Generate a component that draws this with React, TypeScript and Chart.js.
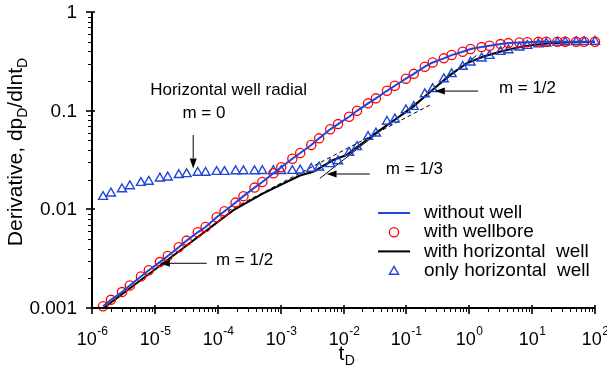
import React, { useEffect, useRef } from "react";
import { Chart, registerables } from "chart.js";

Chart.register(...registerables);

const FONT = '"Liberation Sans", Arial, Helvetica, sans-serif';
const BLUE = "#1f45d9";
const RED = "#ff0000";

// dimensionless time for the sampled (marker) series
const tD = [
  1.5e-6, 2e-6, 3e-6, 4e-6, 6e-6, 8e-6, 1.2e-5, 1.6e-5, 2.4e-5, 3.2e-5,
  4.8e-5, 6.4e-5, 9.6e-5, 1.28e-4, 1.92e-4, 2.56e-4, 3.84e-4, 5.12e-4, 7.68e-4, 1.024e-3,
  1.536e-3, 2.048e-3, 3.072e-3, 4.096e-3, 6.144e-3, 8.192e-3, 0.012288, 0.016384, 0.024576, 0.032768,
  0.049152, 0.065536, 0.098304, 0.131072, 0.196608, 0.262144, 0.393216, 0.524288, 0.786432, 1.048576,
  1.572864, 2.097152, 3.145728, 4.194304, 6.291456, 8.388608, 12.58, 16.78, 25.17, 33.55,
  50.33, 67.11, 100,
];

// "without well" (blue line) and "with wellbore" (red circles) coincide
const withoutWell = [
  0.00104, 0.00121, 0.00145, 0.00169, 0.00209, 0.00241, 0.00292, 0.00337, 0.00413, 0.00482,
  0.00585, 0.00662, 0.0083, 0.00955, 0.0117, 0.0136, 0.0166, 0.0189, 0.0232, 0.0267,
  0.0326, 0.0372, 0.0448, 0.0524, 0.0647, 0.0731, 0.0867, 0.0997, 0.1186, 0.1333,
  0.159, 0.179, 0.211, 0.236, 0.279, 0.308, 0.339, 0.366, 0.395, 0.421,
  0.441, 0.455, 0.473, 0.484, 0.49, 0.495, 0.498, 0.499, 0.5, 0.5,
  0.5, 0.5, 0.5,
];
const withWellbore = [
  0.00104, 0.00121, 0.00145, 0.00169, 0.00209, 0.00241, 0.00292, 0.00337, 0.00413, 0.00482,
  0.00585, 0.00662, 0.0083, 0.00955, 0.0117, 0.0136, 0.0166, 0.0189, 0.0232, 0.0267,
  0.0326, 0.0372, 0.0448, 0.0524, 0.0647, 0.0731, 0.0867, 0.0997, 0.1186, 0.1333,
  0.159, 0.179, 0.211, 0.236, 0.279, 0.308, 0.339, 0.366, 0.395, 0.421,
  0.441, 0.455, 0.473, 0.484, 0.49, 0.495, 0.498, 0.499, 0.5, 0.5,
  0.5, 0.5, 0.5,
];
const onlyHorizontalWell = [
  0.0134, 0.0145, 0.016, 0.0172, 0.0186, 0.0191, 0.0206, 0.0211, 0.0223, 0.0228,
  0.0235, 0.0235, 0.024, 0.024, 0.0244, 0.0244, 0.0244, 0.0245, 0.0245, 0.0245,
  0.0246, 0.0248, 0.0258, 0.0266, 0.0288, 0.0308, 0.0376, 0.043, 0.0544, 0.0589,
  0.0773, 0.0817, 0.1014, 0.1096, 0.147, 0.166, 0.209, 0.235, 0.279, 0.308,
  0.339, 0.36, 0.395, 0.411, 0.437, 0.455, 0.473, 0.481, 0.49, 0.494,
  0.497, 0.499, 0.5,
];

// "with horizontal well" (black line)
const tDHorizontal = [
  1.5e-6, 1.2e-5, 1.75e-4, 5.28e-4, 2.03e-3, 3.3e-3, 6.85e-3, 0.0112, 0.0182, 0.0379,
  0.128, 0.209, 0.492, 0.906, 1.64, 3.06, 5.65, 10.3, 19.1, 35.2, 92.3, 100,
];
const withHorizontalWell = [
  0.00099, 0.00268, 0.00975, 0.0145, 0.022, 0.024, 0.0316, 0.0355, 0.0448, 0.0635,
  0.109, 0.144, 0.23, 0.301, 0.352, 0.395, 0.434, 0.462, 0.481, 0.492, 0.499, 0.499,
];

const xMajorTicks = [1e-6, 1e-5, 1e-4, 1e-3, 1e-2, 1e-1, 1, 10, 100];
const xTickExponents = ["-6", "-5", "-4", "-3", "-2", "-1", "0", "1", "2"];
const yMajorTicks = [0.001, 0.01, 0.1, 1];
const yTickLabels = ["0.001", "0.01", "0.1", "1"];
const minorMultipliers = [2, 3, 4, 5, 6, 7, 8, 9];

const legendLabels = ["without well", "with wellbore", "with horizontal  well", "only horizontal  well"];

// annotations, in data coordinates
const tangentHalf = [[4.2e-3, 0.0206], [1.3, 0.362]];
const tangentThird = [[1.45e-4, 0.00962], [0.254, 0.1167]];
const arrows = [
  { from: [4.07e-5, 0.0567], to: [4.07e-5, 0.026] },
  { from: [6.67e-5, 0.00284], to: [1.2e-5, 0.00284] },
  { from: [0.0263, 0.0228], to: [5.38e-3, 0.0228] },
  { from: [1.38, 0.158], to: [0.284, 0.158] },
];
const notes = [
  { text: "Horizontal well radial", x: 1.49e-4, y: 0.159, align: "center" },
  { text: "m = 0", x: 6.04e-5, y: 0.094, align: "center" },
  { text: "m = 1/2", x: 9.35e-5, y: 0.00306, align: "left" },
  { text: "m = 1/3", x: 0.0472, y: 0.0256, align: "left" },
  { text: "m = 1/2", x: 2.96, y: 0.168, align: "left" },
];

function drawTriangle(ctx: CanvasRenderingContext2D, x: number, y: number, r: number) {
  ctx.beginPath();
  for (let i = 0; i < 3; i++) {
    const a = (i * 2 * Math.PI) / 3;
    const px = x + Math.sin(a) * r;
    const py = y - Math.cos(a) * r;
    if (i === 0) ctx.moveTo(px, py);
    else ctx.lineTo(px, py);
  }
  ctx.closePath();
  ctx.stroke();
}

const decorPlugin = {
  id: "decor",
  beforeDatasetsDraw(chart: any) {
    const { ctx, scales } = chart;
    const xs = scales.x, ys = scales.y;
    ctx.save();
    ctx.strokeStyle = "#000";
    ctx.lineWidth = 1;
    ctx.beginPath();
    ctx.moveTo(xs.getPixelForValue(tangentHalf[0][0]), ys.getPixelForValue(tangentHalf[0][1]));
    ctx.lineTo(xs.getPixelForValue(tangentHalf[1][0]), ys.getPixelForValue(tangentHalf[1][1]));
    ctx.stroke();
    ctx.setLineDash([4, 3]);
    ctx.beginPath();
    ctx.moveTo(xs.getPixelForValue(tangentThird[0][0]), ys.getPixelForValue(tangentThird[0][1]));
    ctx.lineTo(xs.getPixelForValue(tangentThird[1][0]), ys.getPixelForValue(tangentThird[1][1]));
    ctx.stroke();
    ctx.restore();
  },
  afterDraw(chart: any) {
    const { ctx, scales, chartArea: ca } = chart;
    const xs = scales.x, ys = scales.y;
    ctx.save();
    ctx.strokeStyle = "#000";
    ctx.fillStyle = "#000";

    // axis lines
    ctx.lineWidth = 2;
    ctx.beginPath();
    ctx.moveTo(ca.left, ca.top);
    ctx.lineTo(ca.left, ca.bottom);
    ctx.lineTo(ca.right, ca.bottom);
    ctx.stroke();

    // x ticks
    for (let i = 0; i < xMajorTicks.length; i++) {
      const v = xMajorTicks[i];
      const px = Math.round(xs.getPixelForValue(v));
      ctx.lineWidth = 1.6;
      ctx.beginPath();
      ctx.moveTo(px, ca.bottom - 3);
      ctx.lineTo(px, ca.bottom + 6);
      ctx.stroke();
      if (i < xMajorTicks.length - 1) {
        for (const m of minorMultipliers) {
          const mx = Math.round(xs.getPixelForValue(v * m)) + 0.5;
          ctx.lineWidth = 1;
          ctx.beginPath();
          ctx.moveTo(mx, ca.bottom);
          ctx.lineTo(mx, ca.bottom + 4);
          ctx.stroke();
        }
      }
      // label 10^n
      ctx.textBaseline = "alphabetic";
      ctx.font = `18px ${FONT}`;
      const w10 = ctx.measureText("10").width;
      ctx.font = `12px ${FONT}`;
      const we = ctx.measureText(xTickExponents[i]).width;
      const start = px - (w10 + we) / 2;
      ctx.font = `18px ${FONT}`;
      ctx.textAlign = "left";
      ctx.fillText("10", start, ca.bottom + 37);
      ctx.font = `12px ${FONT}`;
      ctx.fillText(xTickExponents[i], start + w10 + 0.5, ca.bottom + 27);
    }

    // y ticks
    for (let i = 0; i < yMajorTicks.length; i++) {
      const v = yMajorTicks[i];
      const py = Math.round(ys.getPixelForValue(v));
      ctx.lineWidth = 1.6;
      ctx.beginPath();
      ctx.moveTo(ca.left - 6, py);
      ctx.lineTo(ca.left + 3, py);
      ctx.stroke();
      if (i < yMajorTicks.length - 1) {
        for (const m of minorMultipliers) {
          const my = Math.round(ys.getPixelForValue(v * m)) + 0.5;
          ctx.lineWidth = 1;
          ctx.beginPath();
          ctx.moveTo(ca.left - 4, my);
          ctx.lineTo(ca.left, my);
          ctx.stroke();
        }
      }
      ctx.font = `19px ${FONT}`;
      ctx.textAlign = "right";
      ctx.textBaseline = "middle";
      ctx.fillText(yTickLabels[i], ca.left - 15, py + 1);
    }

    // x title t_D
    ctx.textAlign = "left";
    ctx.textBaseline = "alphabetic";
    ctx.font = `21px ${FONT}`;
    const wt = ctx.measureText("t").width;
    ctx.font = `14px ${FONT}`;
    const wd = ctx.measureText("D").width;
    const tx = (ca.left + ca.right) / 2 + 3 - (wt + wd) / 2;
    ctx.font = `21px ${FONT}`;
    ctx.fillText("t", tx, ca.bottom + 52);
    ctx.font = `14px ${FONT}`;
    ctx.fillText("D", tx + wt + 0.5, ca.bottom + 57);

    // y title
    const parts: [string, boolean][] = [["Derivative, dp", false], ["D", true], ["/dlnt", false], ["D", true]];
    let total = 0;
    for (const [s, sub] of parts) {
      ctx.font = `${sub ? 14 : 21}px ${FONT}`;
      total += ctx.measureText(s).width;
    }
    ctx.save();
    ctx.translate(22, 152);
    ctx.rotate(-Math.PI / 2);
    let cx = -total / 2;
    for (const [s, sub] of parts) {
      ctx.font = `${sub ? 14 : 21}px ${FONT}`;
      ctx.fillText(s, cx, sub ? 5 : 0);
      cx += ctx.measureText(s).width;
    }
    ctx.restore();

    // arrows
    for (const a of arrows) {
      const x1 = xs.getPixelForValue(a.from[0]), y1 = ys.getPixelForValue(a.from[1]);
      const x2 = xs.getPixelForValue(a.to[0]), y2 = ys.getPixelForValue(a.to[1]);
      const ang = Math.atan2(y2 - y1, x2 - x1);
      const L = 10, H = 3.5;
      const bx = x2 - Math.cos(ang) * L, by = y2 - Math.sin(ang) * L;
      ctx.lineWidth = 1;
      ctx.beginPath();
      ctx.moveTo(x1, y1);
      ctx.lineTo(bx, by);
      ctx.stroke();
      ctx.beginPath();
      ctx.moveTo(x2, y2);
      ctx.lineTo(bx + Math.sin(ang) * H, by - Math.cos(ang) * H);
      ctx.lineTo(bx - Math.sin(ang) * H, by + Math.cos(ang) * H);
      ctx.closePath();
      ctx.fill();
    }

    // notes
    ctx.font = `17px ${FONT}`;
    ctx.textBaseline = "middle";
    for (const n of notes) {
      ctx.textAlign = n.align as CanvasTextAlign;
      ctx.fillText(n.text, xs.getPixelForValue(n.x), ys.getPixelForValue(n.y));
    }

    // legend
    const lx = ca.left + 286, ly = 213, dy = 19.2;
    ctx.font = `19px ${FONT}`;
    ctx.textAlign = "left";
    ctx.textBaseline = "middle";
    for (let i = 0; i < legendLabels.length; i++) {
      const y = ly + i * dy;
      if (i === 0 || i === 2) {
        ctx.strokeStyle = i === 0 ? BLUE : "#000";
        ctx.lineWidth = 2;
        ctx.beginPath();
        ctx.moveTo(lx, y);
        ctx.lineTo(lx + 32, y);
        ctx.stroke();
      } else if (i === 1) {
        ctx.strokeStyle = RED;
        ctx.lineWidth = 1.3;
        ctx.beginPath();
        ctx.arc(lx + 16, y, 4.6, 0, Math.PI * 2);
        ctx.stroke();
      } else {
        ctx.strokeStyle = BLUE;
        ctx.lineWidth = 1.4;
        drawTriangle(ctx, lx + 16, y + 1, 5.2);
      }
      ctx.fillStyle = "#000";
      ctx.fillText(legendLabels[i], lx + 46, y);
    }
    ctx.restore();
  },
};

export default function App() {
  const ref = useRef<HTMLCanvasElement | null>(null);
  useEffect(() => {
    if (!ref.current) return;
    const chart = new Chart(ref.current, {
      type: "line",
      data: {
        datasets: [
          {
            label: legendLabels[0],
            data: tD.map((x, i) => ({ x, y: withoutWell[i] })),
            borderColor: BLUE,
            borderWidth: 2,
            pointRadius: 0,
            fill: false,
            clip: false,
          },
          {
            label: legendLabels[1],
            data: tD.map((x, i) => ({ x, y: withWellbore[i] })),
            showLine: false,
            pointStyle: "circle",
            pointRadius: 4.6,
            pointBorderColor: RED,
            pointBackgroundColor: "rgba(0,0,0,0)",
            pointBorderWidth: 1.3,
            clip: false,
          },
          {
            label: legendLabels[3],
            data: tD.map((x, i) => ({ x, y: onlyHorizontalWell[i] })),
            showLine: false,
            pointStyle: "triangle",
            pointRadius: 5.2,
            pointBorderColor: BLUE,
            pointBackgroundColor: "rgba(0,0,0,0)",
            pointBorderWidth: 1.4,
            clip: false,
          },
          {
            label: legendLabels[2],
            data: tDHorizontal.map((x, i) => ({ x, y: withHorizontalWell[i] })),
            borderColor: "#000",
            borderWidth: 2,
            pointRadius: 0,
            fill: false,
            clip: false,
          },
        ],
      } as any,
      options: {
        animation: false,
        responsive: false,
        layout: { padding: { left: 92, right: 12, top: 12, bottom: 62 } },
        scales: {
          x: { type: "logarithmic", min: 1e-6, max: 100, display: false },
          y: { type: "logarithmic", min: 0.001, max: 1, display: false },
        },
        elements: { line: { tension: 0 } },
        plugins: { legend: { display: false }, tooltip: { enabled: false } },
      } as any,
      plugins: [decorPlugin],
    });
    return () => chart.destroy();
  }, []);
  return (
    <div style={{ position: "absolute", left: 0, top: 0, width: 607, height: 370, background: "#fff" }}>
      <canvas ref={ref} width={607} height={370} style={{ display: "block" }} />
    </div>
  );
}
